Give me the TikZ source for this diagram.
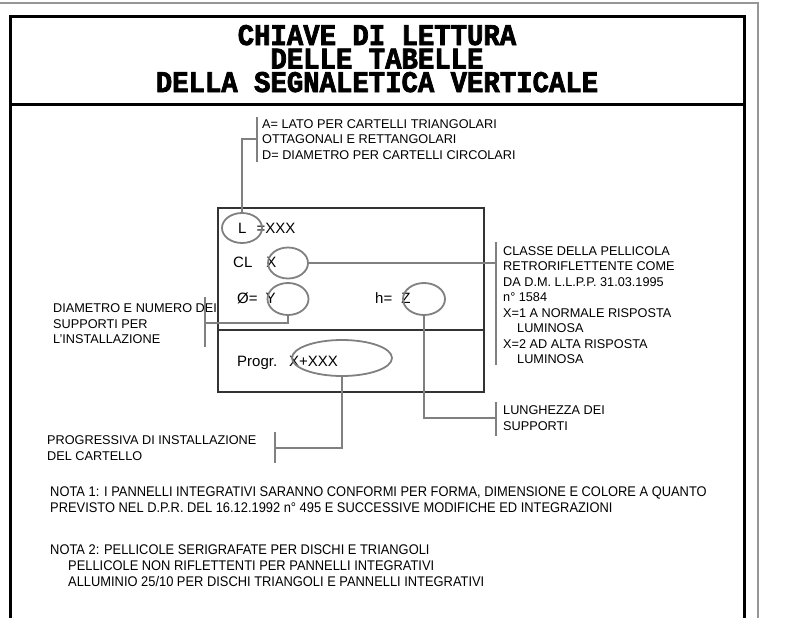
\documentclass[tikz,border=0pt]{standalone}
\usepackage{fontspec}
\setmainfont{Liberation Sans}
\newfontfamily\titlefont[FakeStretch=0.91, BoldFeatures={FakeBold=2.5}]{Liberation Mono}
\newfontfamily\narrowfont[FakeStretch=0.92]{Liberation Sans}
\usepackage{tikz}
\usetikzlibrary{calc, shapes, positioning}
\definecolor{linegray}{RGB}{128, 128, 128}
\definecolor{edgegray}{RGB}{150, 150, 150}
\tikzset{
    textnode/.style  = {draw=none, fill=none, rectangle, inner sep = 0em, anchor=base west, 
      align=left, font=\fontsize{12.7}{15.5}\selectfont},
    panelnode/.style  = {draw=none, fill=none, rectangle, inner sep = 0em, anchor=base west, 
      font=\fontsize{15}{18}\selectfont},
    notenode/.style  = {draw=none, fill=none, rectangle, inner sep = 0em, anchor=base west, 
      align=left, font=\narrowfont\fontsize{14}{16}\selectfont},
    titlenode/.style  = {draw=none, fill=none, rectangle, inner sep = 0em, anchor=base, 
      align=center, font=\titlefont\bfseries\fontsize{30}{23.5}\selectfont},
    ellipsenode/.style = {draw=linegray, ellipse, line width=1.8pt, inner sep = 0em},
    rectanglenode/.style = {draw=black!80, rectangle, line width=1.2pt, inner sep = 0em},
    connect/.style = {linegray, line width=2.2pt},
    bracket/.style = {linegray, line width=2.2pt},
    framing/.style = {black, line width=3pt}
}

\begin{document}
\begin{tikzpicture}[x=1pt, y=-1pt]
    \useasboundingbox (0,0) rectangle (786,618);

    \draw [edgegray, line width=1.5pt] (0,3) -- (758,3) -- (758,618);
    \draw [framing] (10,618) -- (10,17) -- (744,17) -- (744,618);
    \draw [framing] (10,104) -- (744,104);

    \node [name=title, titlenode] at (377,92) {CHIAVE DI LETTURA\\DELLE TABELLE\\DELLA SEGNALETICA VERTICALE};

    \node [name=panel, rectanglenode, minimum width=266, minimum height=184] at (351,300) {};
    \coordinate (divleft) at (218,330);
    \coordinate (divright) at (484,330);
    \draw [black!80, line width=1.2pt] (divleft) -- (divright);

    \node [name=txtL, panelnode] at (238,233.5) {L\hspace{10pt}=XXX};
    \node [name=txtCL, panelnode] at (233,267.5) {CL\hspace{14pt}X};
    \node [name=txtD, panelnode] at (237,303.5) {Ø=\hspace{8pt}Y};
    \node [name=txtH, panelnode] at (375,303.5) {h=\hspace{9pt}Z};
    \node [name=txtPr, panelnode] at (237,366.5) {Progr.\hspace{12pt}X+XXX};

    \node [name=ellL, ellipsenode, minimum width=40, minimum height=30] at (242,228) {};
    \node [name=ellCL, ellipsenode, minimum width=40, minimum height=31] at (288,263) {};
    \node [name=ellD, ellipsenode, minimum width=41, minimum height=32] at (288,299) {};
    \node [name=ellH, ellipsenode, minimum width=42, minimum height=32] at (424,299) {};
    \node [name=ellPr, ellipsenode, minimum width=100, minimum height=36] at (342,358) {};

    \node [name=labA, textnode] at (262,159) {A= LATO PER CARTELLI TRIANGOLARI\\OTTAGONALI E RETTANGOLARI\\D= DIAMETRO PER CARTELLI CIRCOLARI};
    \node [name=labCL, textnode] at (503,363.5) {CLASSE DELLA PELLICOLA\\RETRORIFLETTENTE COME\\DA D.M. L.L.P.P. 31.03.1995\\n° 1584\\X=1 A NORMALE RISPOSTA\\\hspace*{14pt}LUMINOSA\\X=2 AD ALTA RISPOSTA\\\hspace*{14pt}LUMINOSA};
    \node [name=labD, textnode] at (53,343.5) {DIAMETRO E NUMERO DEI\\SUPPORTI PER\\L'INSTALLAZIONE};
    \node [name=labH, textnode] at (503,430) {LUNGHEZZA DEI\\SUPPORTI};
    \node [name=labPr, textnode] at (47,460) {PROGRESSIVA DI INSTALLAZIONE\\DEL CARTELLO};

    \coordinate (brA) at (257,139);
    \coordinate (brCL) at (496,263);
    \coordinate (brD) at (205,323);
    \coordinate (brH) at (496,418);
    \coordinate (brPr) at (275,448);

    \draw [bracket] ($(brA)+(0,-22)$) -- ($(brA)+(0,23)$);
    \draw [bracket] (496,242) -- (496,365);
    \draw [bracket] ($(brD)+(0,-26)$) -- ($(brD)+(0,24)$);
    \draw [bracket] ($(brH)+(0,-16)$) -- ($(brH)+(0,18)$);
    \draw [bracket] ($(brPr)+(0,-16)$) -- ($(brPr)+(0,15)$);

    \draw [connect] (ellL.north) |- (brA);
    \draw [connect] (ellCL.east) -- (brCL);
    \draw [connect] (ellD.south) |- (brD);
    \draw [connect] (ellH.south) |- (brH);
    \draw [connect] (ellPr.south) |- (brPr);

    \node [name=nota1, notenode] at (50,512.5) {NOTA 1: I PANNELLI INTEGRATIVI SARANNO CONFORMI PER FORMA, DIMENSIONE E COLORE A QUANTO\\PREVISTO NEL D.P.R. DEL 16.12.1992 n° 495 E SUCCESSIVE MODIFICHE ED INTEGRAZIONI};
    \node [name=nota2, notenode] at (50,586.5) {NOTA 2: PELLICOLE SERIGRAFATE PER DISCHI E TRIANGOLI\\\hspace*{18pt}PELLICOLE NON RIFLETTENTI PER PANNELLI INTEGRATIVI\\\hspace*{18pt}ALLUMINIO 25/10 PER DISCHI TRIANGOLI E PANNELLI INTEGRATIVI};
\end{tikzpicture}
\end{document}
